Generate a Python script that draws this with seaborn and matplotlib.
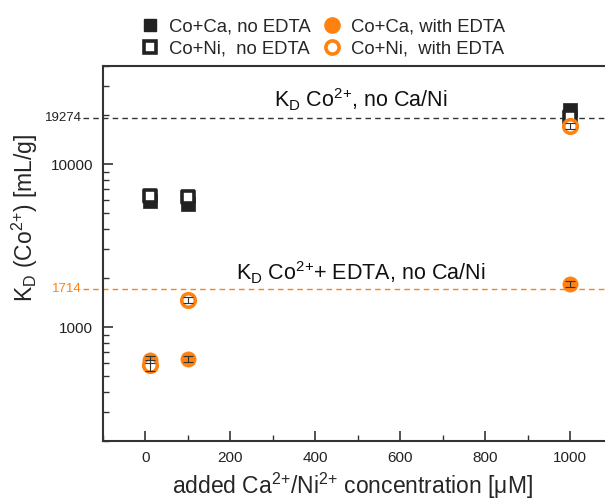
import numpy as np
import pandas as pd
import matplotlib
matplotlib.use("Agg")
import matplotlib.pyplot as plt
import matplotlib.ticker as mticker
import matplotlib.transforms as mtransforms
from matplotlib.lines import Line2D
import seaborn as sns

# Added Ca/Ni concentration [uM]
conc = [10, 100, 1000]

# Distribution coefficients K_D of Co2+ [mL/g]
kd_ca_no_edta = [5930, 5690, 21400]
kd_ni_no_edta = [6370, 6280, 19400]
kd_ca_edta = [630, 640, 1830]
kd_ni_edta = [585, 1460, 17100]

# Uncertainties
err_ca_edta = [30, 28, 80]
err_ni_edta = [45, 60, 720]

# Reference values without competing ions
kd_ref = 19274
kd_ref_edta = 1714

series_names = ["Co+Ca, no EDTA", "Co+Ni,  no EDTA", "Co+Ca, with EDTA", "Co+Ni,  with EDTA"]

ORANGE = "#FF8210"
DARK = "#222222"

sns.set_style("ticks")
plt.rcParams["font.family"] = ["Liberation Sans", "DejaVu Sans"]
plt.rcParams["mathtext.fontset"] = "custom"
plt.rcParams["mathtext.rm"] = "Liberation Sans"
plt.rcParams["mathtext.it"] = "Liberation Sans:italic"

fig = plt.figure(figsize=(6.05, 5.01), dpi=100)
ax = fig.add_axes([103 / 605, 60 / 501, 509.5 / 605, 375 / 501])

df = pd.DataFrame({
    "conc": conc * 4,
    "kd": kd_ca_no_edta + kd_ni_no_edta + kd_ca_edta + kd_ni_edta,
    "series": sum([[n] * len(conc) for n in series_names], []),
})

styles = {
    series_names[0]: dict(marker="s", s=105, color=DARK, edgecolor=DARK, linewidth=0.5, zorder=3),
    series_names[1]: dict(marker="s", s=85, color="white", edgecolor=DARK, linewidth=2.6, zorder=4),
    series_names[2]: dict(marker="o", s=120, color=ORANGE, edgecolor=ORANGE, linewidth=0.5, zorder=5),
    series_names[3]: dict(marker="o", s=95, color="white", edgecolor=ORANGE, linewidth=2.6, zorder=6),
}

for name in series_names:
    sub = df[df["series"] == name]
    sns.scatterplot(data=sub, x="conc", y="kd", ax=ax, legend=False, **styles[name])

ax.errorbar(conc, kd_ca_edta, yerr=err_ca_edta, fmt="none", ecolor="#333333",
            elinewidth=0.8, capsize=3.5, capthick=0.8, zorder=7)
ax.errorbar(conc, kd_ni_edta, yerr=err_ni_edta, fmt="none", ecolor="#333333",
            elinewidth=0.8, capsize=3.5, capthick=0.8, zorder=8)

ax.set_yscale("log")
ax.set_xlim(-100, 1100)
ax.set_ylim(200, 40000)

# Reference lines reaching past the left spine
trans = mtransforms.blended_transform_factory(ax.transAxes, ax.transData)
ax.plot([-0.04, 1.0], [kd_ref, kd_ref], transform=trans, color="#333333", lw=1.0,
        ls=(0, (4, 3)), clip_on=False, zorder=2)
ax.plot([-0.04, 1.0], [kd_ref_edta, kd_ref_edta], transform=trans, color=ORANGE, lw=1.0,
        ls=(0, (4, 3)), clip_on=False, zorder=2)
ax.text(-0.041, kd_ref, str(kd_ref), transform=trans, ha="right", va="center",
        fontsize=9.5, color="#222222")
ax.text(-0.041, kd_ref_edta, str(kd_ref_edta), transform=trans, ha="right", va="center",
        fontsize=9.5, color=ORANGE)

ax.text(508, 25000, r"$\mathregular{K_D\ Co^{2{+}}}$, no Ca/Ni",
        ha="center", va="center", fontsize=15.5, color="#111111")
ax.text(508, 2170, r"$\mathregular{K_D\ Co^{2{+}}}$+ EDTA, no Ca/Ni",
        ha="center", va="center", fontsize=15.5, color="#111111")

# Ticks
ax.xaxis.set_major_locator(mticker.MultipleLocator(200))
ax.xaxis.set_minor_locator(mticker.MultipleLocator(100))
ax.yaxis.set_major_locator(mticker.FixedLocator([1000, 10000]))
ax.yaxis.set_major_formatter(mticker.FuncFormatter(lambda v, p: f"{v:.0f}"))
ax.yaxis.set_minor_locator(mticker.LogLocator(base=10, subs=np.arange(2, 10), numticks=20))
ax.yaxis.set_minor_formatter(mticker.NullFormatter())
ax.tick_params(axis="both", which="both", direction="in", colors="#333333",
               labelcolor="#222222", labelsize=11, top=False, right=False)
ax.tick_params(axis="both", which="major", length=7, width=1.2)
ax.tick_params(axis="both", which="minor", length=4, width=1.0)
ax.tick_params(axis="y", which="major", pad=7)
ax.tick_params(axis="x", which="major", pad=7)

for side in ["left", "bottom", "top", "right"]:
    ax.spines[side].set_color("#333333")
    ax.spines[side].set_linewidth(1.5)

ax.set_xlabel(r"added $\mathregular{Ca^{2{+}}/Ni^{2{+}}}$ concentration [μM]", fontsize=16.5)
ax.set_ylabel(r"$\mathregular{K_D\ (Co^{2{+}})}$ [mL/g]", fontsize=16.5)
ax.xaxis.set_label_coords(0.489, -0.08)
ax.yaxis.set_label_coords(-0.124, 0.595)

handles = [
    Line2D([], [], ls="none", marker="s", markersize=9, color=DARK, markeredgecolor=DARK),
    Line2D([], [], ls="none", marker="s", markersize=8, markerfacecolor="white",
           markeredgecolor=DARK, markeredgewidth=2.6),
    Line2D([], [], ls="none", marker="o", markersize=11, color=ORANGE, markeredgecolor=ORANGE),
    Line2D([], [], ls="none", marker="o", markersize=9.5, markerfacecolor="white",
           markeredgecolor=ORANGE, markeredgewidth=2.6),
]
fig.legend(handles, series_names, ncol=2, loc="center left",
           bbox_to_anchor=(122 / 605, 1 - 38 / 501), frameon=False, fontsize=13.3,
           handlelength=1.2, handletextpad=0.45, columnspacing=0.55, labelspacing=0.3)

fig.savefig("out.png", dpi=100)
